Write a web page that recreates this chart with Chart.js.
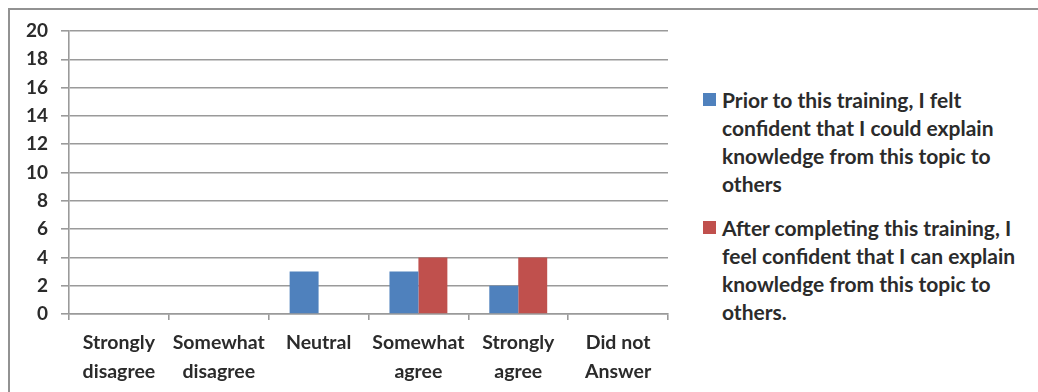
<!DOCTYPE html>
<html>
<head>
<meta charset="utf-8">
<script src="https://cdn.jsdelivr.net/npm/chart.js@4/dist/chart.umd.min.js"></script>
<style>
  html, body { margin: 0; padding: 0; background: #fff; }
  body { width: 1038px; height: 392px; position: relative; overflow: hidden; }
  #frame {
    position: absolute; left: 8px; top: 8px; width: 1100px; height: 450px;
    border: 2px solid #929292; box-sizing: border-box;
  }
  #chart { position: absolute; left: 0; top: 0; }
  #legend {
    position: absolute; left: 703px; top: 86px;
    font-family: Lato, "Open Sans", sans-serif; font-weight: bold;
    font-size: 21px; color: #2b2b2b; line-height: 28px;
  }
  .item { position: relative; padding-left: 19px; margin-bottom: 16px; white-space: nowrap; }
  .swatch { position: absolute; left: 0; top: 7px; width: 13px; height: 13px; }
</style>
</head>
<body>
<div id="frame"></div>
<canvas id="chart" width="700" height="392"></canvas>
<div id="legend"></div>
<script>
// Survey response categories (x axis)
const categories = [
  ["Strongly", "disagree"],
  ["Somewhat", "disagree"],
  "Neutral",
  ["Somewhat", "agree"],
  ["Strongly", "agree"],
  ["Did not", "Answer"]
];

// Response counts per category
const priorCounts = [0, 0, 3, 3, 2, 0];
const afterCounts = [0, 0, 0, 4, 4, 0];

// Series names, one entry per wrapped line
const priorLabel = ["Prior to this training, I felt", "confident that I could explain", "knowledge from this topic to", "others"];
const afterLabel = ["After completing this training, I", "feel confident that I can explain", "knowledge from this topic to", "others."];

const seriesColors = ["#4F81BD", "#C0504D"];

const gridColor = "#9a9a9a";
const tickFont = { family: "Lato, 'Open Sans', sans-serif", weight: "bold", size: 19 };

const chart = new Chart(document.getElementById("chart"), {
  type: "bar",
  data: {
    labels: categories,
    datasets: [
      { label: priorLabel.join(" "), data: priorCounts, backgroundColor: seriesColors[0] },
      { label: afterLabel.join(" "), data: afterCounts, backgroundColor: seriesColors[1] }
    ]
  },
  options: {
    responsive: false,
    animation: false,
    devicePixelRatio: 1,
    layout: { padding: { top: 31, right: 32, left: 0, bottom: 0 } },
    datasets: { bar: { barPercentage: 1, categoryPercentage: 0.58 } },
    plugins: { legend: { display: false }, tooltip: { enabled: false } },
    scales: {
      x: {
        afterFit: s => { s.height = 78; },
        grid: {
          display: true, drawOnChartArea: false, drawTicks: true,
          tickLength: 6, color: gridColor, lineWidth: 1.6, offset: true
        },
        border: { display: true, color: gridColor, width: 1.6 },
        ticks: {
          color: "#2b2b2b", font: { ...tickFont, size: 19.5, lineHeight: "29px" },
          padding: 8, maxRotation: 0, autoSkip: false
        }
      },
      y: {
        min: 0, max: 20,
        afterFit: s => { s.width = 69; },
        grid: { color: gridColor, lineWidth: 1.6, tickLength: 8 },
        border: { display: true, color: gridColor, width: 1.6 },
        ticks: { stepSize: 2, color: "#2b2b2b", font: tickFont, padding: 13 }
      }
    }
  }
});

// Legend with wrapped series names
const legend = document.getElementById("legend");
[[priorLabel, seriesColors[0]], [afterLabel, seriesColors[1]]].forEach(([lines, color]) => {
  const item = document.createElement("div");
  item.className = "item";
  const sw = document.createElement("span");
  sw.className = "swatch";
  sw.style.background = color;
  item.appendChild(sw);
  lines.forEach((t, i) => {
    if (i) item.appendChild(document.createElement("br"));
    item.appendChild(document.createTextNode(t));
  });
  legend.appendChild(item);
});
</script>
</body>
</html>
